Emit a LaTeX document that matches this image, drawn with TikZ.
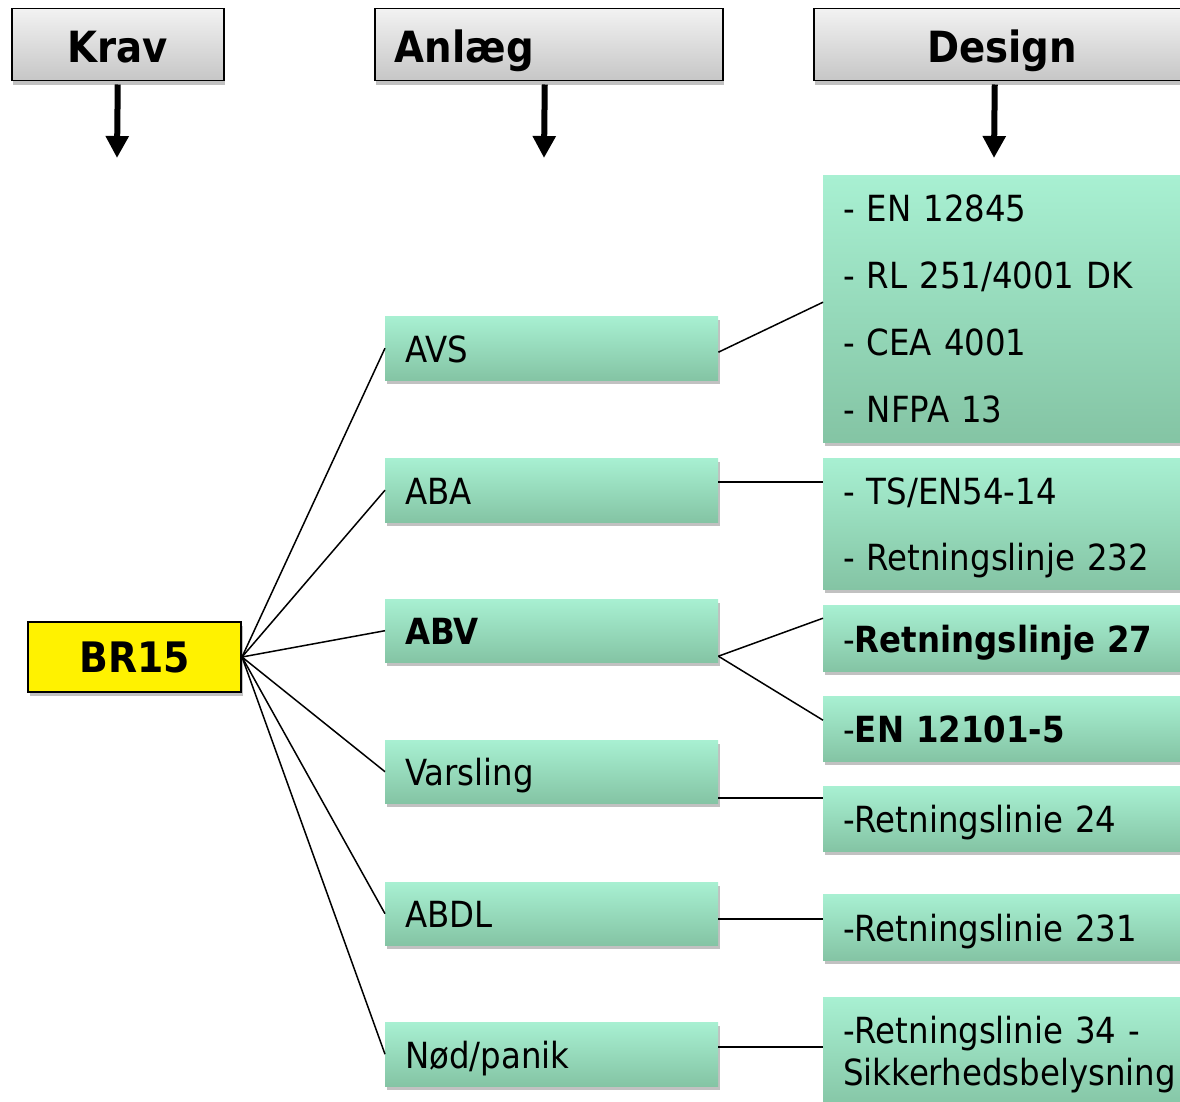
\documentclass[tikz,border=0pt]{standalone}
\usepackage{fontspec}
\setmainfont{DejaVu Sans Condensed}
\usetikzlibrary{arrows.meta,shadows,calc}
\definecolor{hdrtop}{HTML}{F2F2F2}
\definecolor{hdrbot}{HTML}{C6C6C6}
\definecolor{grtop}{HTML}{A8F0D2}
\definecolor{grbot}{HTML}{84C4A4}
\begin{document}
\begin{tikzpicture}[x=1pt,y=-1pt,
  shad/.style={drop shadow={shadow xshift=1.5pt,shadow yshift=-4pt,opacity=0.35,fill=black!70}},
  hdr/.style={draw=black,line width=1.5pt,top color=hdrtop,bottom color=hdrbot,
    minimum height=72pt,inner sep=0pt,text height=40pt,text depth=4.6pt,
    font=\fontsize{43}{50}\selectfont\bfseries,shad},
  grn/.style={top color=grtop,bottom color=grbot,inner xsep=20pt,inner ysep=0pt,
    font=\fontsize{36}{44}\selectfont,align=left,shad,anchor=north west},
  one/.style={text height=34pt,text depth=6pt},
  anl/.style={grn,one,text width=293pt,minimum width=333pt},
  des/.style={grn,text width=400pt,minimum width=440pt},
  conn/.style={line width=1.5pt,black},
  harrow/.style={line width=6pt,-{Triangle[width=22pt,length=22pt]}}]
\useasboundingbox (0,0) rectangle (1180,1102);
\clip (0,0) rectangle (1180,1102);

% headers
\node[hdr,minimum width=212pt,anchor=north west] (krav) at (11,8) {Krav};
\node[hdr,text width=308pt,inner xsep=20pt,align=left,anchor=north west] (anlaeg) at (374,8) {Anlæg};
\node[hdr,minimum width=377pt,anchor=north west] (design) at (813,8) {Design};

\coordinate (ka) at (117,158);
\coordinate (aa) at (544,158);
\coordinate (da) at (994,158);
\draw[harrow] ([yshift=-3pt]krav.south) -- (ka);
\draw[harrow] ([xshift=-4pt,yshift=-3pt]anlaeg.south) -- (aa);
\draw[harrow] ([xshift=-7.5pt,yshift=-3pt]design.south) -- (da);

% BR15
\node[draw=black,line width=2pt,fill=yellow,minimum width=213pt,minimum height=70pt,
  inner sep=0pt,anchor=north west,font=\fontsize{42}{50}\selectfont\bfseries,shad] (br) at (27,621) {BR15};

% Anlaeg boxes
\node[anl,minimum height=64pt] (avs) at (385,316) {AVS};
\node[anl,minimum height=64pt] (aba) at (385,458) {ABA};
\node[anl,minimum height=63pt] (abv) at (385,599) {\textbf{ABV}};
\node[anl,minimum height=63pt] (vars) at (385,740) {Varsling};
\node[anl,minimum height=63pt] (abdl) at (385,882) {ABDL};
\node[anl,minimum height=64pt] (nod) at (385,1022) {Nød/panik};

% Design boxes
\node[des,minimum height=267pt,font=\fontsize{36}{67}\selectfont] (d1) at (823,175)
  {- EN 12845\\- RL 251/4001 DK\\- CEA 4001\\- NFPA 13};
\node[des,minimum height=131pt,font=\fontsize{36}{66}\selectfont] (d2) at (823,458)
  {- TS/EN54-14\\\smash{- Retningslinje 232}};
\node[des,one,minimum height=66pt] (r27) at (823,605) {-\textbf{Retningslinje 27}};
\node[des,one,minimum height=65pt] (en) at (823,696) {-\textbf{EN 12101-5}};
\node[des,one,minimum height=65pt] (r24) at (823,786) {-Retningslinie 24};
\node[des,one,minimum height=66pt] (r231) at (823,894) {-Retningslinie 231};
\node[des,minimum height=114pt,font=\fontsize{36}{42}\selectfont] (r34) at (823,997)
  {-Retningslinie 34 -\\Sikkerhedsbelysning};

% connectors BR15 -> Anlaeg
\foreach \n in {avs,aba,abv,vars,abdl,nod}
  \draw[conn] (br.east) -- (\n.west);

% connectors Anlaeg -> Design
\draw[conn] ([yshift=-4pt]avs.east) -- ([yshift=6.5pt]d1.west);
\draw[conn] ([yshift=8pt]aba.east) coordinate (p1) -- (p1 -| d2.west);
\draw[conn] ([yshift=-25.5pt]abv.east) -- ([yshift=20pt]r27.west);
\draw[conn] ([yshift=-25.5pt]abv.east) -- ([yshift=8.5pt]en.west);
\draw[conn] ([yshift=-26.5pt]vars.east) coordinate (p2) -- (p2 -| r24.west);
\draw[conn] ([yshift=-5.5pt]abdl.east) coordinate (p3) -- (p3 -| r231.west);
\draw[conn] ([yshift=7pt]nod.east) coordinate (p4) -- (p4 -| r34.west);
\end{tikzpicture}
\end{document}
